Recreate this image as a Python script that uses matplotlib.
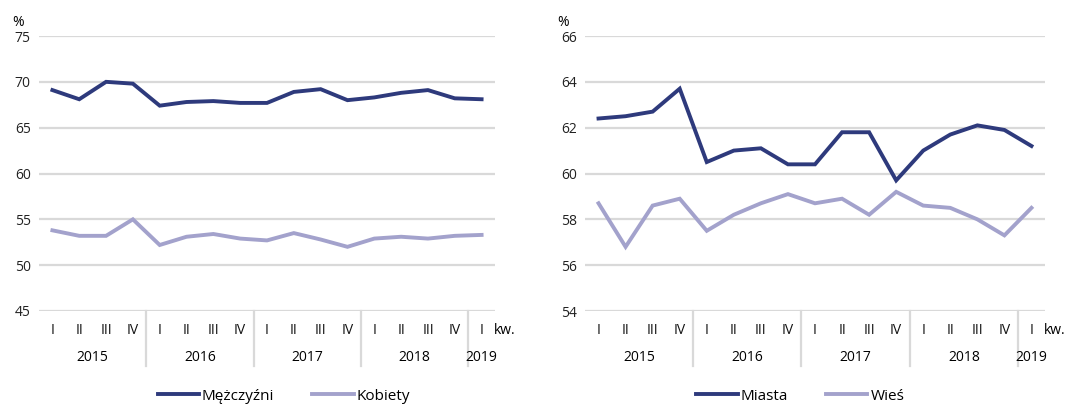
import matplotlib
matplotlib.use("Agg")
import matplotlib.pyplot as plt
from matplotlib.transforms import blended_transform_factory

plt.rcParams['font.family'] = ['Open Sans', 'DejaVu Sans']

# quarters 2015 Q1 .. 2019 Q1
quarters = ["I", "II", "III", "IV"] * 4 + ["I"]
years = ["2015", "2016", "2017", "2018", "2019"]
year_sizes = [4, 4, 4, 4, 1]

men = [69.1, 68.1, 70.0, 69.8, 67.4, 67.8, 67.9, 67.7, 67.7, 68.9, 69.2, 68.0,
       68.3, 68.8, 69.1, 68.2, 68.1]
women = [53.8, 53.2, 53.2, 55.0, 52.2, 53.1, 53.4, 52.9, 52.7, 53.5, 52.8, 52.0,
         52.9, 53.1, 52.9, 53.2, 53.3]

urban = [62.4, 62.5, 62.7, 63.7, 60.5, 61.0, 61.1, 60.4, 60.4, 61.8, 61.8, 59.7,
         61.0, 61.7, 62.1, 61.9, 61.2]
rural = [58.7, 56.8, 58.6, 58.9, 57.5, 58.2, 58.7, 59.1, 58.7, 58.9, 58.2, 59.2,
         58.6, 58.5, 58.0, 57.3, 58.5]

dark = "#2e3a7c"
light = "#a3a2cc"
grid = "#d9d9d9"

W, H = 1075, 407
fig = plt.figure(figsize=(W / 100, H / 100), dpi=100)


def px(x0, x1, y_top, y_bot):
    return [x0 / W, 1 - y_bot / H, (x1 - x0) / W, (y_bot - y_top) / H]


def panel(rect, s1, s2, names, ylim, yticks, leg_x, pct_x):
    ax = fig.add_axes(rect)
    x = list(range(len(quarters)))
    ax.plot(x, s1, color=dark, lw=2.8, label=names[0], solid_joinstyle='miter')
    ax.plot(x, s2, color=light, lw=2.8, label=names[1], solid_joinstyle='miter')
    ax.set_xlim(-0.5, len(quarters) - 0.5)
    ax.set_ylim(*ylim)
    ax.set_yticks(yticks)
    for t in yticks:
        ax.axhline(t, color=grid, lw=1.6, zorder=0)
    for s in ax.spines.values():
        s.set_visible(False)
    ax.tick_params(axis='y', length=0, pad=6, labelsize=10, labelcolor='#222222')
    ax.set_xticks(x)
    ax.set_xticklabels(quarters, fontsize=10, color='#111111')
    ax.tick_params(axis='x', length=0, pad=9)
    ax.text(pct_x, 1.02, "%", transform=ax.transAxes, fontsize=10, ha='left', va='bottom')

    trans = blended_transform_factory(ax.transData, ax.transAxes)
    ax.text(len(quarters) - 0.55, -0.07, "kw.", transform=trans, fontsize=10,
            ha='left', va='center')
    start = 0
    for i, (yr, n) in enumerate(zip(years, year_sizes)):
        ax.text(start + (n - 1) / 2, -0.17, yr, transform=trans, fontsize=10,
                ha='center', va='center')
        if i < len(years) - 1:
            ax.plot([start + n - 0.5] * 2, [0, -0.2], transform=trans, color=grid,
                    lw=1.6, clip_on=False)
        start += n

    ax.legend(loc='center', bbox_to_anchor=(leg_x, -0.31), ncol=2, frameon=False,
              fontsize=11, handlelength=2.7, handletextpad=0.2, columnspacing=2.5)
    return ax


panel(px(39, 495, 36, 311), men, women, ["Mężczyźni", "Kobiety"],
      (45, 75), [45, 50, 55, 60, 65, 70, 75], 0.537, -0.058)
panel(px(585, 1045, 36, 311), urban, rural, ["Miasta", "Wieś"],
      (54, 66), [54, 56, 58, 60, 62, 64, 66], 0.468, -0.06)

fig.savefig("out.png", dpi=100)
